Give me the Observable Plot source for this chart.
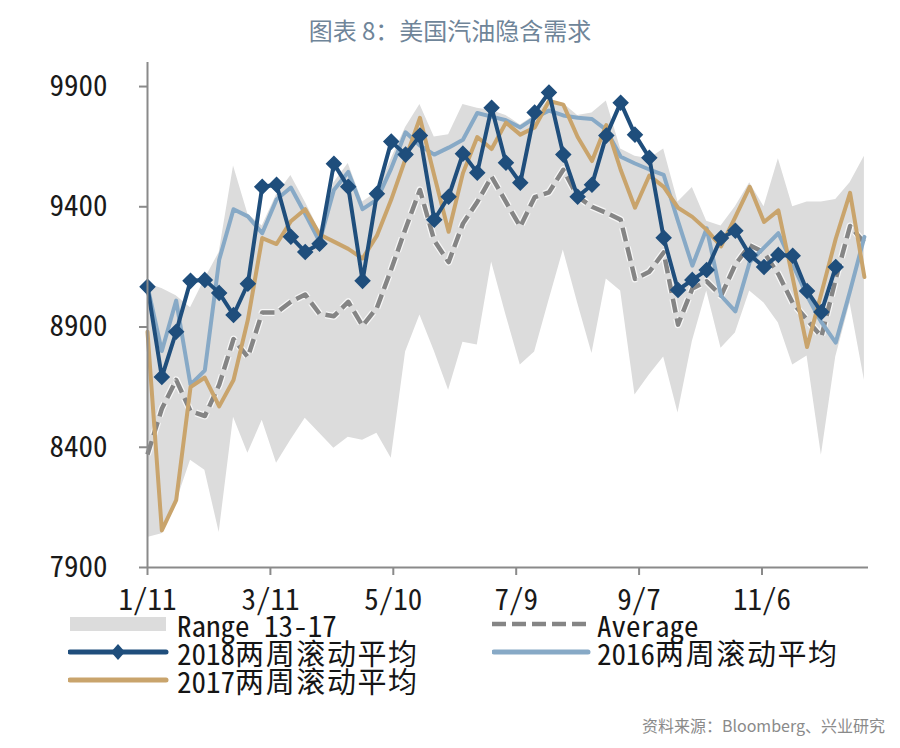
<!DOCTYPE html>
<html><head><meta charset="utf-8">
<script src="https://cdn.jsdelivr.net/npm/d3@7"></script>
<script src="https://cdn.jsdelivr.net/npm/@observablehq/plot@0.6"></script>
<style>
body{margin:0;background:#fff;}
#wrap{position:relative;width:900px;height:748px;overflow:hidden;background:#fff;}
#title{position:absolute;left:0;width:900px;top:14px;text-align:center;font-family:"Noto Sans CJK SC",sans-serif;font-size:24px;line-height:32px;color:#6f8599;}
#chart{position:absolute;left:0;top:50px;}
.leg{position:absolute;line-height:24px;height:24px;color:#151515;white-space:nowrap;}
.sw{position:absolute;}
#src{position:absolute;right:15px;top:713px;font-size:16px;line-height:24px;color:#8a8a8a;font-family:"Noto Sans CJK SC",sans-serif;}
</style></head><body><div id="wrap">
<div id="title">图表 8：美国汽油隐含需求</div>
<div id="chart"></div>
<div id="legend"></div>
<div id="src">资料来源：Bloomberg、兴业研究</div>
</div>
<script>
const weekLabels = ["1/11","1/18","1/25","2/1","2/8","2/15","2/22","2/29","3/7","3/14","3/21","3/28","4/4","4/11","4/18","4/25","5/2","5/9","5/16","5/23","5/30","6/6","6/13","6/20","6/27","7/4","7/11","7/18","7/25","8/1","8/8","8/15","8/22","8/29","9/5","9/12","9/19","9/26","10/3","10/10","10/17","10/24","10/31","11/7","11/14","11/21","11/28","12/5","12/12","12/19","12/26"];
const tickLabels = ["1/11","3/11","5/10","7/9","9/7","11/6"];
const yTicks = [7900, 8400, 8900, 9400, 9900];
const rangeHigh = [9080,9060,9030,8980,9100,9210,9570,9370,9320,9450,9530,9420,9300,9500,9580,9420,9460,9600,9730,9825,9690,9700,9825,9810,9800,9780,9740,9780,9845,9830,9780,9790,9840,9640,9610,9600,9640,9420,9480,9340,9320,9400,9500,9400,9600,9400,9420,9420,9430,9500,9610];
const rangeLow = [8025,8040,8170,8346,8304,8046,8525,8375,8512,8333,8430,8521,8458,8396,8442,8429,8458,8354,8796,8950,8800,8637,8837,8825,9170,8950,8742,8796,9010,9220,9000,8790,9100,9050,8617,8700,8775,8542,8840,9050,8812,8875,9050,9000,8917,8742,8780,8367,8775,9000,8679];
const average = [8370,8560,8680,8550,8530,8660,8850,8775,8960,8960,9005,9035,8955,8945,9005,8905,8980,9140,9310,9470,9260,9170,9330,9420,9525,9420,9317,9440,9460,9554,9442,9400,9375,9346,9100,9130,9210,8910,9060,9090,9030,9160,9240,9210,9120,9000,8930,8860,9100,9320,9250];
const y2016 = [9070,8800,9010,8660,8720,9180,9390,9360,9290,9430,9480,9370,9255,9470,9545,9390,9430,9560,9710,9655,9617,9646,9679,9790,9775,9760,9730,9770,9800,9780,9770,9765,9720,9608,9580,9555,9533,9340,9155,9310,9030,8965,9170,9230,9290,9160,9030,8920,8835,9050,9275];
const y2017 = [8880,8054,8180,8650,8690,8570,8680,8930,9270,9245,9340,9390,9285,9255,9225,9185,9280,9430,9600,9770,9530,9296,9540,9690,9640,9750,9700,9730,9840,9825,9690,9590,9740,9554,9396,9530,9483,9396,9358,9304,9235,9358,9483,9337,9385,9104,8817,9040,9267,9458,9108];
const y2018 = [9067,8692,8880,9092,9096,9042,8950,9080,9483,9492,9275,9212,9246,9579,9483,9092,9454,9671,9617,9696,9346,9442,9621,9542,9812,9583,9500,9792,9875,9617,9442,9492,9696,9833,9700,9604,9271,9054,9096,9137,9270,9300,9200,9150,9200,9196,9050,8962,9150];

const C18 = "#1f4e7c", C16 = "#87a9c6", C17 = "#c9a46c", CAVG = "#858585", CBAND = "#dcdcdc", CAX = "#8a8a8a";

function hasFont(name){
  const c = document.createElement("canvas").getContext("2d");
  c.font = '40px "' + name + '", monospace'; const a = c.measureText("iiiiWWWW0").width;
  c.font = '40px "' + name + '", serif'; const b = c.measureText("iiiiWWWW0").width;
  return Math.abs(a - b) < 0.01;
}
const MONO = hasFont("Noto Sans Mono CJK SC");
const LAT_FAMILY = MONO ? '"Noto Sans Mono CJK SC"' : '"Liberation Mono", monospace';
const LAT_SIZE = MONO ? 29 : 24;
const CJK_FAMILY = '"Noto Sans CJK SC", sans-serif';

const parse = s => { const [m, d] = s.split("/").map(Number); return new Date(Date.UTC(2016, m - 1, d)); };
const data = weekLabels.map((w, i) => ({date: parse(w), lo: rangeLow[i], hi: rangeHigh[i], avg: average[i], y16: y2016[i], y17: y2017[i]}));
const d18 = y2018.map((v, i) => ({date: parse(weekLabels[i]), v}));
const tickDates = tickLabels.map(parse);
const x0 = parse("1/11"), x1 = new Date(Date.UTC(2016, 11, 28));

const chart = Plot.plot({
  width: 900, height: 570,
  marginLeft: 147, marginRight: 32, marginTop: 12, marginBottom: 53,
  x: {type: "utc", domain: [x0, x1]},
  y: {domain: [7900, 10000]},
  style: {background: "transparent", fontFamily: LAT_FAMILY, fontSize: LAT_SIZE + "px", color: "#1a1a1a", overflow: "visible"},
  marks: [
    Plot.areaY(data, {x: "date", y1: "lo", y2: "hi", fill: CBAND}),
    Plot.lineY(data, {x: "date", y: "avg", stroke: "#f7f7f7", strokeWidth: 7, strokeDasharray: "14,6", strokeLinecap: "butt"}),
    Plot.lineY(data, {x: "date", y: "avg", stroke: CAVG, strokeWidth: 4.5, strokeDasharray: "14,6", strokeLinecap: "butt"}),
    Plot.lineY(data, {x: "date", y: "y16", stroke: C16, strokeWidth: 4}),
    Plot.lineY(data, {x: "date", y: "y17", stroke: C17, strokeWidth: 4}),
    Plot.lineY(d18, {x: "date", y: "v", stroke: C18, strokeWidth: 4}),
    Plot.dot(d18, {x: "date", y: "v", symbol: "diamond2", r: 6.5, fill: C18, stroke: C18, strokeWidth: 1.5}),
    Plot.ruleY([7900], {stroke: CAX, strokeWidth: 2}),
    Plot.ruleX([x0], {stroke: CAX, strokeWidth: 2}),
    Plot.axisX(tickDates, {tickSize: 8, tickPadding: 14, stroke: CAX, strokeWidth: 2, tickFormat: (d, i) => tickLabels[i], fill: "#1a1a1a", fontSize: LAT_SIZE}),
    Plot.axisY(yTicks, {tickSize: 8, tickPadding: 32, stroke: CAX, strokeWidth: 2, tickFormat: d => String(d), fill: "#1a1a1a", fontSize: LAT_SIZE})
  ]
});
document.getElementById("chart").appendChild(chart);

// legend text, one span per character (Latin and CJK fonts)
function richText(str){
  let html = "";
  for (const ch of str) {
    const cjk = /[\u3000-\u9fff\uff00-\uffef]/.test(ch);
    if (cjk) html += '<span style="font-family:' + CJK_FAMILY.replace(/"/g, "'") + ';font-size:29px;letter-spacing:1.6px">' + ch + '</span>';
    else html += '<span style="font-family:' + LAT_FAMILY.replace(/"/g, "'") + ';font-size:' + LAT_SIZE + 'px">' + (ch === " " ? "&nbsp;" : ch) + '</span>';
  }
  return html;
}
const legendItems = [
  {label: "Range 13-17", kind: "band", x: 70, tx: 177, y: 624},
  {label: "Average", kind: "avg", x: 492, tx: 597, y: 624},
  {label: "2018两周滚动平均", kind: "y18", x: 68, tx: 177, y: 652},
  {label: "2016两周滚动平均", kind: "y16", x: 492, tx: 597, y: 652},
  {label: "2017两周滚动平均", kind: "y17", x: 68, tx: 177, y: 680}
];
const leg = document.getElementById("legend");
for (const it of legendItems) {
  const sw = document.createElementNS("http://www.w3.org/2000/svg", "svg");
  sw.setAttribute("width", 104); sw.setAttribute("height", 20);
  sw.setAttribute("class", "sw");
  sw.style.left = it.x + "px"; sw.style.top = (it.y - 10) + "px";
  let inner = "";
  if (it.kind === "band") inner = '<rect x="0" y="3" width="96" height="14" fill="' + CBAND + '"/>';
  else if (it.kind === "avg") inner = '<line x1="0" y1="10" x2="96" y2="10" stroke="' + CAVG + '" stroke-width="4.5" stroke-dasharray="14,6"/>';
  else if (it.kind === "y18") inner = '<line x1="2" y1="10" x2="98" y2="10" stroke="' + C18 + '" stroke-width="5" stroke-linecap="round"/><path d="M50,2 L57,10 L50,18 L43,10 Z" fill="' + C18 + '"/>';
  else if (it.kind === "y16") inner = '<line x1="2" y1="10" x2="96" y2="10" stroke="' + C16 + '" stroke-width="5" stroke-linecap="round"/>';
  else inner = '<line x1="2" y1="10" x2="98" y2="10" stroke="' + C17 + '" stroke-width="5" stroke-linecap="round"/>';
  sw.innerHTML = inner;
  leg.appendChild(sw);
  const t = document.createElement("div");
  t.className = "leg";
  t.style.left = it.tx + "px"; t.style.top = (it.y - 12) + "px";
  t.innerHTML = richText(it.label);
  leg.appendChild(t);
}
</script>
</body></html>
